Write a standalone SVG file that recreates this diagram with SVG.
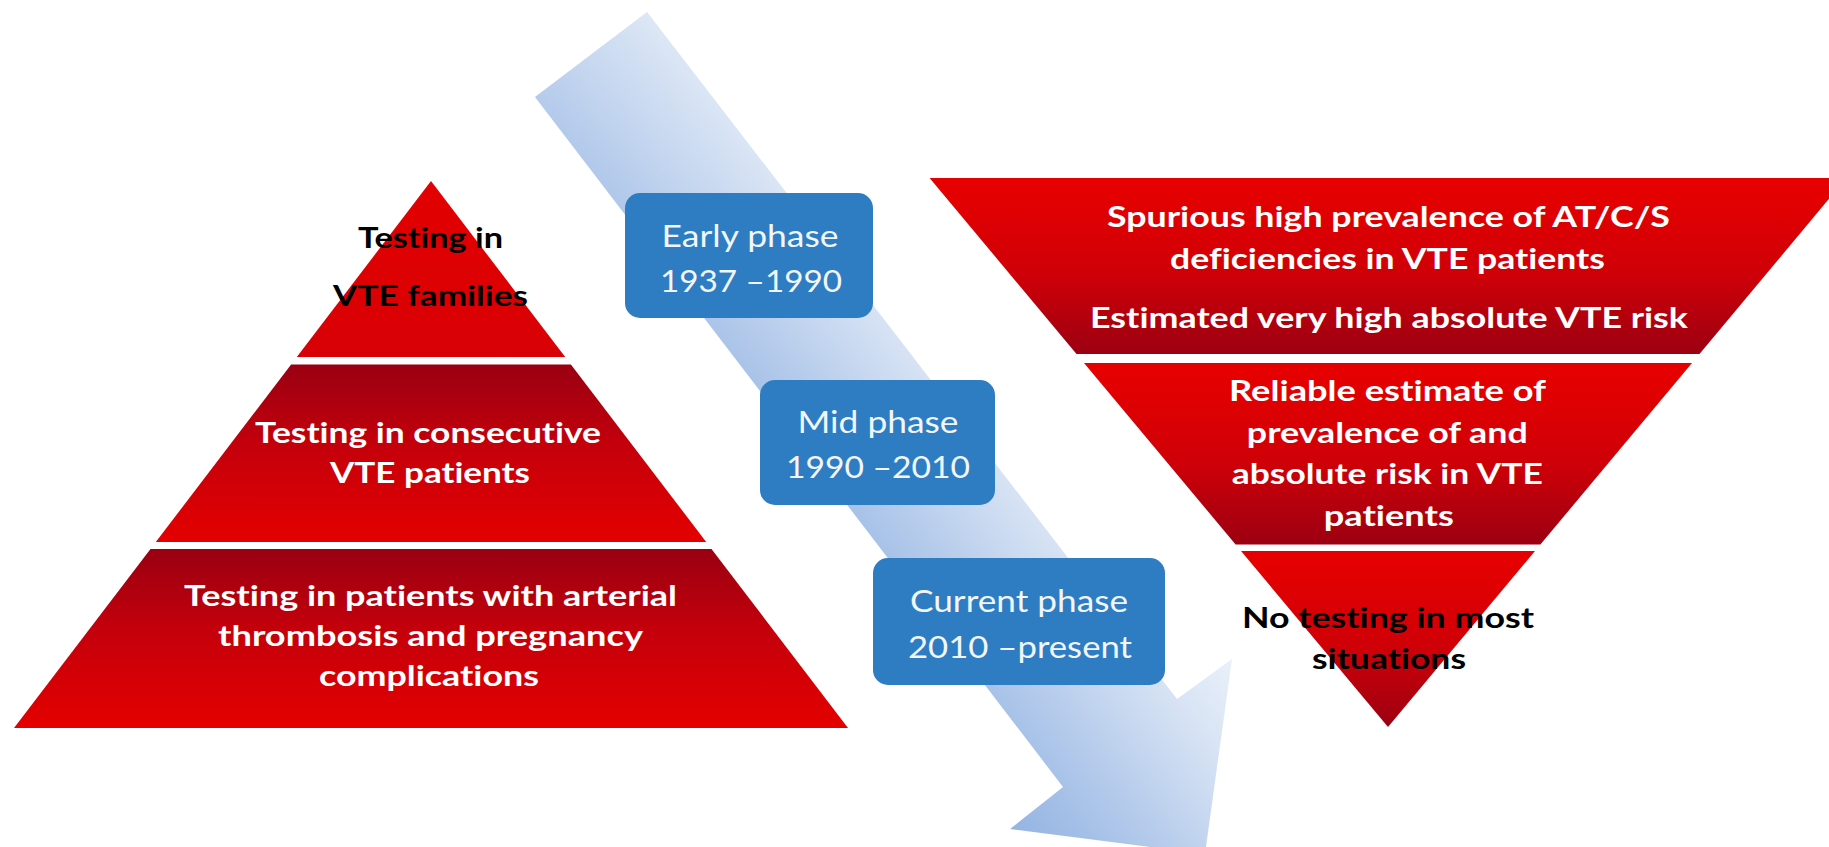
<svg xmlns="http://www.w3.org/2000/svg" width="1829" height="847" viewBox="0 0 1829 847">
  <defs>
    <linearGradient id="redDarkTop" x1="0" y1="0" x2="0" y2="1">
      <stop offset="0" stop-color="#9a0012"/>
      <stop offset="0.45" stop-color="#c4000c"/>
      <stop offset="1" stop-color="#e40000"/>
    </linearGradient>
    <linearGradient id="redBrightTop" x1="0" y1="0" x2="0" y2="1">
      <stop offset="0" stop-color="#e80000"/>
      <stop offset="0.55" stop-color="#cf0008"/>
      <stop offset="1" stop-color="#9c0012"/>
    </linearGradient>
    <linearGradient id="redFlat" x1="0" y1="0" x2="0" y2="1">
      <stop offset="0" stop-color="#e30000"/>
      <stop offset="1" stop-color="#d80006"/>
    </linearGradient>
    <linearGradient id="arrowCross" gradientUnits="userSpaceOnUse" x1="1009" y1="828" x2="1231" y2="658">
      <stop offset="0" stop-color="#94b4e2"/>
      <stop offset="0.25" stop-color="#a8c2e8"/>
      <stop offset="0.75" stop-color="#d7e3f4"/>
      <stop offset="1" stop-color="#e9f0f9"/>
    </linearGradient>
    <linearGradient id="arrowFade" gradientUnits="userSpaceOnUse" x1="591" y1="54" x2="1205" y2="854">
      <stop offset="0" stop-color="#ffffff" stop-opacity="0.15"/>
      <stop offset="0.4" stop-color="#ffffff" stop-opacity="0"/>
      <stop offset="1" stop-color="#ffffff" stop-opacity="0"/>
    </linearGradient>
    <style>
      text { font-variant-ligatures: none; text-anchor: middle; }
      .tier-w { font-family: Lato, "Liberation Sans", sans-serif; font-weight: 700; font-size: 29px; fill: #ffffff; }
      .tier-b { font-family: Lato, "Liberation Sans", sans-serif; font-weight: 700; font-size: 29px; fill: #000000; }
      .box { fill: #2e7dc2; }
      .box-t { font-family: Lato, "Liberation Sans", sans-serif; font-weight: 400; font-size: 31px; fill: #f2f6fb; }
    </style>
  </defs>
  <rect width="1829" height="847" fill="#ffffff"/>

  <g id="connectors">
    <g id="timeline-arrow">
      <polygon points="647,12 1177,699 1232,659 1205,854 1010,829 1063,787 535,97" fill="url(#arrowCross)"/>
      <polygon points="647,12 1177,699 1232,659 1205,854 1010,829 1063,787 535,97" fill="url(#arrowFade)"/>
    </g>
  </g>

  <g id="left-top">
    <polygon points="431,181 565.2,357 296.8,357" fill="url(#redFlat)"/>
    <text class="tier-b" x="430.5" y="248" textLength="145" lengthAdjust="spacingAndGlyphs">Testing in</text>
    <text class="tier-b" x="430.5" y="306" textLength="195" lengthAdjust="spacingAndGlyphs">VTE families</text>
  </g>
  <g id="left-middle">
    <polygon points="291.1,364.5 570.9,364.5 706.2,542 155.8,542" fill="url(#redDarkTop)"/>
    <text class="tier-w" x="428" y="443" textLength="346" lengthAdjust="spacingAndGlyphs">Testing in consecutive</text>
    <text class="tier-w" x="430" y="483" textLength="200" lengthAdjust="spacingAndGlyphs">VTE patients</text>
  </g>
  <g id="left-bottom">
    <polygon points="150.5,549 711.5,549 848,728 14,728" fill="url(#redDarkTop)"/>
    <text class="tier-w" x="430.5" y="606" textLength="493" lengthAdjust="spacingAndGlyphs">Testing in patients with arterial</text>
    <text class="tier-w" x="430.5" y="646" textLength="425" lengthAdjust="spacingAndGlyphs">thrombosis and pregnancy</text>
    <text class="tier-w" x="429" y="686" textLength="220" lengthAdjust="spacingAndGlyphs">complications</text>
  </g>

  <g id="right-top">
    <polygon points="929.6,178 1846.4,178 1699.5,354 1076.5,354" fill="url(#redBrightTop)"/>
    <text class="tier-w" x="1388.5" y="227" textLength="563" lengthAdjust="spacingAndGlyphs">Spurious high prevalence of AT/C/S</text>
    <text class="tier-w" x="1387.5" y="269" textLength="435" lengthAdjust="spacingAndGlyphs">deficiencies in VTE patients</text>
    <text class="tier-w" x="1389" y="328" textLength="598" lengthAdjust="spacingAndGlyphs">Estimated very high absolute VTE risk</text>
  </g>
  <g id="right-middle">
    <polygon points="1084,363 1692,363 1540.4,544.5 1235.6,544.5" fill="url(#redBrightTop)"/>
    <text class="tier-w" x="1387.5" y="401" textLength="317" lengthAdjust="spacingAndGlyphs">Reliable estimate of</text>
    <text class="tier-w" x="1387.3" y="443" textLength="281" lengthAdjust="spacingAndGlyphs">prevalence of and</text>
    <text class="tier-w" x="1387.3" y="484" textLength="311" lengthAdjust="spacingAndGlyphs">absolute risk in VTE</text>
    <text class="tier-w" x="1388.8" y="526" textLength="130" lengthAdjust="spacingAndGlyphs">patients</text>
  </g>
  <g id="right-bottom">
    <polygon points="1241,551 1535,551 1388,727" fill="url(#redBrightTop)"/>
    <text class="tier-b" x="1388" y="628" textLength="292" lengthAdjust="spacingAndGlyphs">No testing in most</text>
    <text class="tier-b" x="1389" y="669" textLength="154" lengthAdjust="spacingAndGlyphs">situations</text>
  </g>

  <g id="early-phase">
    <rect class="box" x="625" y="193" width="248" height="125" rx="15"/>
    <text class="box-t" x="750" y="247" textLength="177" lengthAdjust="spacingAndGlyphs">Early phase</text>
    <text class="box-t" x="751" y="292" textLength="182" lengthAdjust="spacingAndGlyphs">1937 –1990</text>
  </g>
  <g id="mid-phase">
    <rect class="box" x="760" y="380" width="235" height="125" rx="15"/>
    <text class="box-t" x="878" y="433" textLength="161" lengthAdjust="spacingAndGlyphs">Mid phase</text>
    <text class="box-t" x="878" y="478" textLength="184" lengthAdjust="spacingAndGlyphs">1990 –2010</text>
  </g>
  <g id="current-phase">
    <rect class="box" x="873" y="558" width="292" height="127" rx="15"/>
    <text class="box-t" x="1019" y="612" textLength="218" lengthAdjust="spacingAndGlyphs">Current phase</text>
    <text class="box-t" x="1020" y="658" textLength="224" lengthAdjust="spacingAndGlyphs">2010 –present</text>
  </g>
</svg>
